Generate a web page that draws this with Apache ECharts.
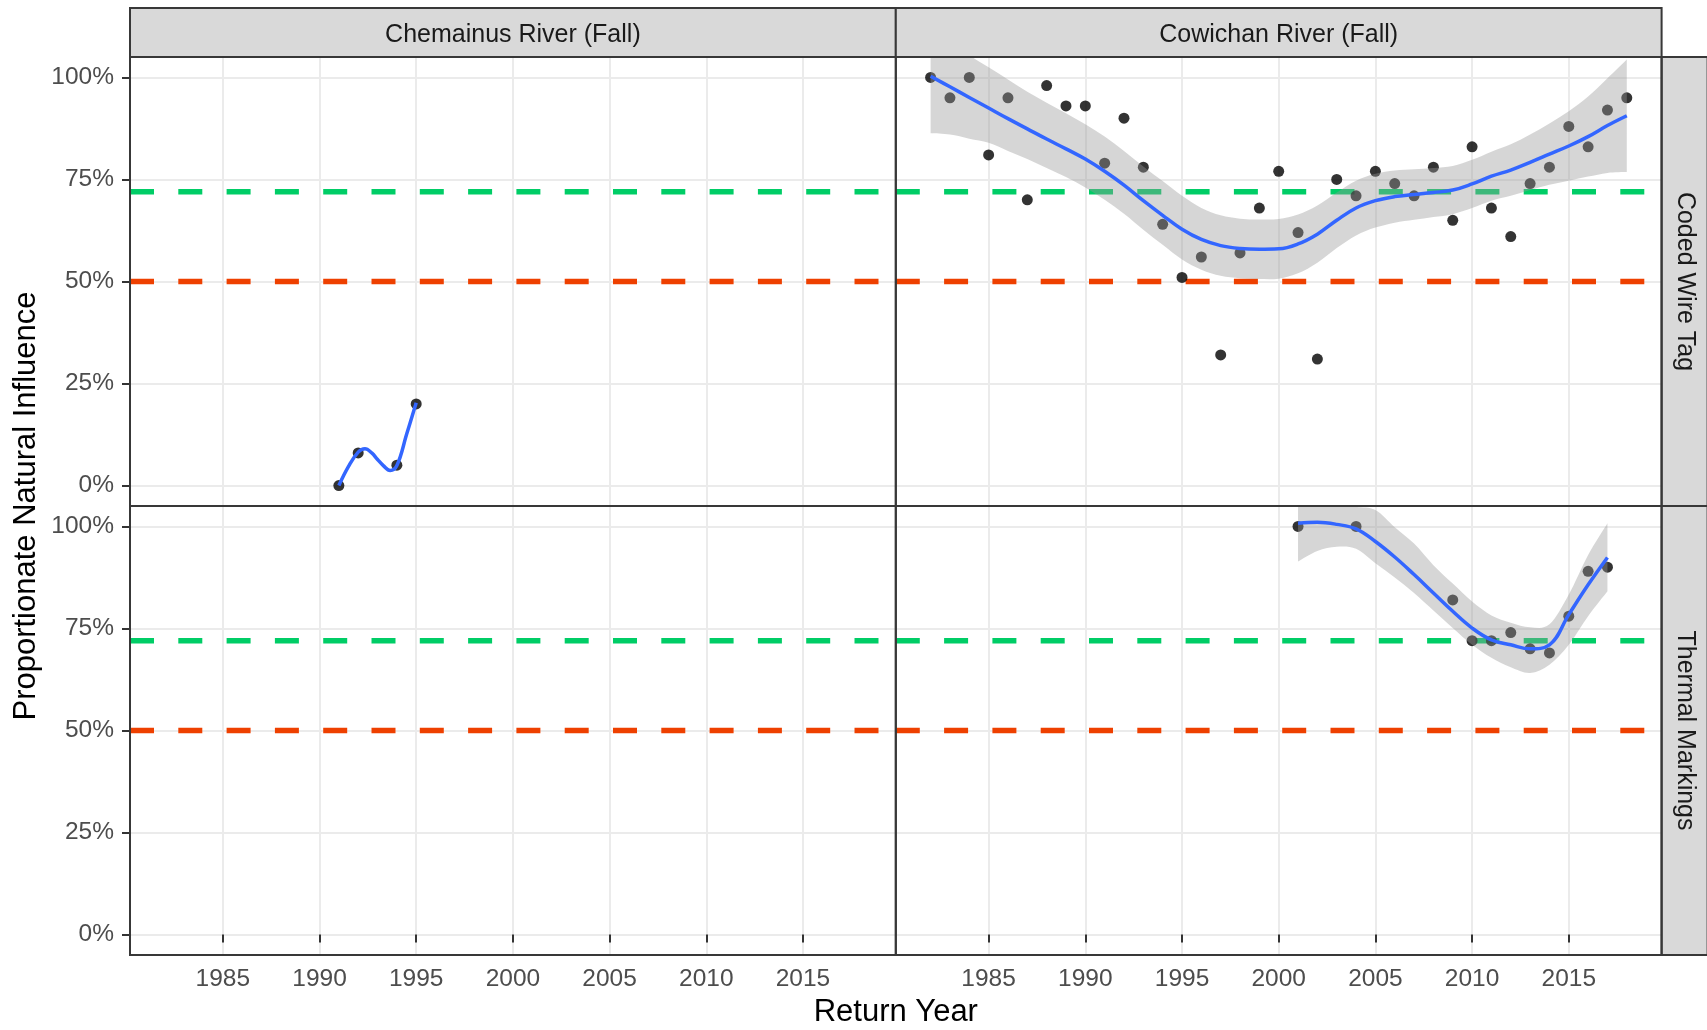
<!DOCTYPE html>
<html>
<head>
<meta charset="utf-8">
<title>Proportionate Natural Influence</title>
<script src="https://cdn.jsdelivr.net/npm/echarts@6/dist/echarts.min.js"></script>
<style>
  html, body { margin: 0; padding: 0; background: #ffffff; }
  #chart { width: 1707px; height: 1030px; }
</style>
</head>
<body>
<div id="chart"></div>
<script>
// ---- Data (proportion of natural influence, %) ----
// Chemainus River (Fall), coded wire tag
const chemYears = [1991, 1992, 1994, 1995];
const chemValues = [0, 8, 5, 20];
const chemFitYears = [1991, 1991.5, 1992, 1992.35, 1992.7, 1993.0, 1993.3, 1993.65, 1994, 1994.5, 1995];
const chemFitValues = [0, 4.7, 8.2, 9.0, 8.0, 6.4, 4.9, 3.7, 4.9, 12.5, 20.3];

// Cowichan River (Fall), coded wire tag
const cwtYears = [1982, 1983, 1984, 1985, 1986, 1987, 1988, 1989, 1990, 1991, 1992, 1993,
  1994, 1995, 1996, 1997, 1998, 1999, 2000, 2001, 2002, 2003, 2004, 2005, 2006, 2007,
  2008, 2009, 2010, 2011, 2012, 2013, 2014, 2015, 2016, 2017, 2018];
const cwtValues = [100, 95, 100, 81, 95, 70, 98, 93, 93, 79, 90, 78,
  64, 51, 56, 32, 57, 68, 77, 62, 31, 75, 71, 77, 74, 71,
  78, 65, 83, 68, 61, 74, 78, 88, 83, 92, 95];
const cwtFit = [100.3, 97.7, 95.1, 92.5, 89.9, 87.4, 84.9, 82.5, 80.0, 77.0, 73.6, 69.8,
  66.2, 62.8, 60.3, 58.8, 58.1, 57.9, 58.0, 59.2, 61.6, 65.0, 68.0, 69.8, 70.8, 71.3,
  71.8, 72.4, 73.9, 75.8, 77.3, 79.2, 81.2, 83.2, 85.5, 88.2, 90.6];
const cwtLower = [86.3, 86.0, 85.0, 84.0, 82.0, 80.0, 77.8, 75.6, 73.0, 70.0, 66.6, 62.7,
  59.0, 55.4, 52.9, 51.4, 50.8, 50.6, 50.7, 52.0, 54.6, 58.2, 61.3, 63.2, 64.4, 65.1,
  65.8, 66.5, 68.0, 69.8, 71.0, 72.4, 73.7, 74.7, 75.7, 76.6, 76.8];
const cwtUpper = [115.0, 110.0, 105.5, 102.5, 99.5, 96.5, 93.8, 91.2, 88.5, 85.5, 82.0, 78.2,
  74.6, 71.0, 68.0, 66.2, 65.4, 65.2, 65.3, 66.4, 68.6, 71.8, 74.7, 76.4, 77.2, 77.5,
  77.8, 78.3, 79.8, 81.8, 83.6, 86.0, 88.7, 91.7, 95.3, 99.8, 104.4];

// Cowichan River (Fall), thermal markings
const tmYears = [2001, 2004, 2009, 2010, 2011, 2012, 2013, 2014, 2015, 2016, 2017];
const tmValues = [100, 100, 82, 72, 72, 74, 70, 69, 78, 89, 90];
const tmFitYears = [2001, 2002, 2003, 2004, 2005, 2006, 2007, 2008, 2009, 2010, 2011,
  2012, 2013, 2014, 2015, 2016, 2017];
const tmFit = [100.8, 101.0, 100.5, 99.4, 96.3, 92.5, 88.2, 83.7, 79.2, 75.1, 72.2,
  71.0, 70.0, 71.0, 78.4, 85.7, 92.4];
const tmLower = [91.4, 94.0, 95.0, 94.5, 91.0, 87.5, 83.7, 79.4, 75.1, 71.0, 67.8,
  65.5, 64.1, 66.1, 71.0, 78.0, 84.1];
const tmUpper = [110.0, 108.0, 106.0, 104.8, 104.0, 99.8, 95.8, 90.5, 86.0, 81.6, 78.2,
  76.4, 75.3, 76.0, 83.3, 93.0, 100.8];

// Reference levels
const thresholdValues = [72, 50];
const thresholdColors = ['#00CD66', '#EE4000'];

// Facet labels and axis ticks
const columnLabels = ['Chemainus River (Fall)', 'Cowichan River (Fall)'];
const rowLabels = ['Coded Wire Tag', 'Thermal Markings'];
const xTicks = [1985, 1990, 1995, 2000, 2005, 2010, 2015];
const yTicks = [0, 25, 50, 75, 100];
const xTitle = 'Return Year';
const yTitle = 'Proportionate Natural Influence';

// Axis limits (data range plus 5% padding)
const X_MIN = 1980.2, X_MAX = 2019.8, Y_MIN = -5, Y_MAX = 105;

// ---- Layout ----
const FONT = '"Liberation Sans", Arial, Helvetica, sans-serif';
const PL = 130, PW = 765.8, PT = 57, PH = 449, STRIP_TOP = 8, RSTRIP_W = 46;
const BORDER = '#383838';
const RIBBON = 'rgba(153,153,153,0.4)';

const zip = (xs, ys) => xs.map((x, i) => [x, ys[i]]);

// panel contents: [row][col]
const panels = [
  [ { points: zip(chemYears, chemValues), fit: zip(chemFitYears, chemFitValues) },
    { points: zip(cwtYears, cwtValues), fit: zip(cwtYears, cwtFit),
      band: { xs: cwtYears, lower: cwtLower, upper: cwtUpper } } ],
  [ { points: [], fit: [] },
    { points: zip(tmYears, tmValues), fit: zip(tmFitYears, tmFit),
      band: { xs: tmFitYears, lower: tmLower, upper: tmUpper } } ]
];

// Catmull-Rom segments (as cubic Beziers) through already-projected pixel points
function curveSegments(pts) {
  let d = '';
  for (let i = 0; i < pts.length - 1; i++) {
    const p0 = pts[Math.max(i - 1, 0)], p1 = pts[i], p2 = pts[i + 1];
    const p3 = pts[Math.min(i + 2, pts.length - 1)];
    const c1 = [p1[0] + (p2[0] - p0[0]) / 6, p1[1] + (p2[1] - p0[1]) / 6];
    const c2 = [p2[0] - (p3[0] - p1[0]) / 6, p2[1] - (p3[1] - p1[1]) / 6];
    d += ' C' + c1[0] + ' ' + c1[1] + ' ' + c2[0] + ' ' + c2[1] + ' ' + p2[0] + ' ' + p2[1];
  }
  return d;
}

// Confidence ribbon: smooth upper edge, straight end, smooth lower edge back
function ribbonRenderer(band) {
  return function (params, api) {
    if (params.dataIndex !== 0) return null;
    const up = band.xs.map((x, i) => api.coord([x, band.upper[i]]));
    const lo = band.xs.map((x, i) => api.coord([x, band.lower[i]])).reverse();
    const d = 'M' + up[0][0] + ' ' + up[0][1] + curveSegments(up) +
      ' L' + lo[0][0] + ' ' + lo[0][1] + curveSegments(lo) + ' Z';
    const cs = params.coordSys;
    return {
      type: 'path',
      silent: true,
      shape: { pathData: d },
      style: { fill: RIBBON },
      clipPath: { type: 'rect', shape: { x: cs.x, y: cs.y, width: cs.width, height: cs.height } }
    };
  };
}

const grids = [], xAxes = [], yAxes = [], series = [];

for (let r = 0; r < 2; r++) {
  for (let c = 0; c < 2; c++) {
    const g = r * 2 + c;
    const isBottom = r === 1, isLeft = c === 0;
    grids.push({ left: PL + c * PW, top: PT + r * PH, width: PW, height: PH, show: false });

    xAxes.push({
      gridIndex: g, type: 'value', min: X_MIN, max: X_MAX, splitNumber: 8,
      axisLine: { show: false },
      axisTick: { show: isBottom, customValues: xTicks, length: 8,
        lineStyle: { color: '#333333', width: 2 } },
      axisLabel: { show: isBottom, customValues: xTicks, margin: 12,
        formatter: v => String(v),
        color: '#4d4d4d', fontSize: 24.5, fontFamily: FONT },
      splitLine: { show: true, lineStyle: { color: '#ebebeb', width: 2 } }
    });
    yAxes.push({
      gridIndex: g, type: 'value', min: Y_MIN, max: Y_MAX,
      axisLine: { show: false },
      axisTick: { show: isLeft, customValues: yTicks, length: 8,
        lineStyle: { color: '#333333', width: 2 } },
      axisLabel: { show: isLeft, customValues: yTicks, margin: 16,
        formatter: v => v + '%', color: '#4d4d4d', fontSize: 24.5, fontFamily: FONT },
      splitLine: { show: true, lineStyle: { color: '#ebebeb', width: 2 } }
    });

    // dashed reference levels
    thresholdValues.forEach((t, k) => {
      series.push({
        type: 'line', xAxisIndex: g, yAxisIndex: g, z: 2, silent: true,
        symbol: 'none', data: [[X_MIN, t], [X_MAX, t]],
        lineStyle: { color: thresholdColors[k], width: 5.5, type: [24, 24.3] }
      });
    });

    const p = panels[r][c];
    series.push({
      type: 'scatter', xAxisIndex: g, yAxisIndex: g, z: 3, silent: true,
      symbol: 'circle', symbolSize: 11, data: p.points,
      itemStyle: { color: '#000000' }
    });

    if (p.band) {
      series.push({
        type: 'custom', xAxisIndex: g, yAxisIndex: g, z: 4, silent: true,
        renderItem: ribbonRenderer(p.band),
        data: p.band.xs.map((x, i) => [x, p.band.lower[i], p.band.upper[i]]),
        encode: { x: 0, y: [1, 2] }
      });
    }

    series.push({
      type: 'line', xAxisIndex: g, yAxisIndex: g, z: 5, silent: true,
      symbol: 'none', smooth: 0.4, data: p.fit,
      lineStyle: { color: '#3366FF', width: 3.5 }
    });
  }
}

// ---- Facet strips, panel frames and axis titles ----
const graphics = [];
for (let c = 0; c < 2; c++) {
  graphics.push({
    type: 'rect', z: 100, silent: true,
    shape: { x: PL + c * PW, y: STRIP_TOP, width: PW, height: PT - STRIP_TOP },
    style: { fill: '#d9d9d9', stroke: BORDER, lineWidth: 2 }
  });
  graphics.push({
    type: 'text', z: 101, silent: true,
    x: PL + c * PW + PW / 2, y: (STRIP_TOP + PT) / 2 + 3,
    style: { text: columnLabels[c], font: '25px ' + FONT, fill: '#1a1a1a',
      align: 'center', verticalAlign: 'middle' }
  });
}
for (let r = 0; r < 2; r++) {
  graphics.push({
    type: 'rect', z: 100, silent: true,
    shape: { x: PL + 2 * PW, y: PT + r * PH, width: RSTRIP_W, height: PH },
    style: { fill: '#d9d9d9', stroke: BORDER, lineWidth: 2 }
  });
  graphics.push({
    type: 'text', z: 101, silent: true,
    x: PL + 2 * PW + RSTRIP_W / 2, y: PT + r * PH + PH / 2,
    rotation: -Math.PI / 2,
    style: { text: rowLabels[r], font: '25px ' + FONT, fill: '#1a1a1a',
      align: 'center', verticalAlign: 'middle' }
  });
  for (let c = 0; c < 2; c++) {
    graphics.push({
      type: 'rect', z: 100, silent: true,
      shape: { x: PL + c * PW, y: PT + r * PH, width: PW, height: PH },
      style: { fill: null, stroke: BORDER, lineWidth: 2 }
    });
  }
}
graphics.push({
  type: 'text', z: 101, silent: true,
  x: PL + PW, y: 1012,
  style: { text: xTitle, font: '31px ' + FONT, fill: '#000000',
    align: 'center', verticalAlign: 'middle' }
});
graphics.push({
  type: 'text', z: 101, silent: true,
  x: 26, y: PT + PH,
  rotation: Math.PI / 2,
  style: { text: yTitle, font: '31px ' + FONT, fill: '#000000',
    align: 'center', verticalAlign: 'middle' }
});

const chart = echarts.init(document.getElementById('chart'), null, { renderer: 'canvas' });
chart.setOption({
  backgroundColor: '#ffffff',
  animation: false,
  tooltip: { show: false },
  grid: grids,
  xAxis: xAxes,
  yAxis: yAxes,
  series: series,
  graphic: { elements: graphics }
});
</script>
</body>
</html>
